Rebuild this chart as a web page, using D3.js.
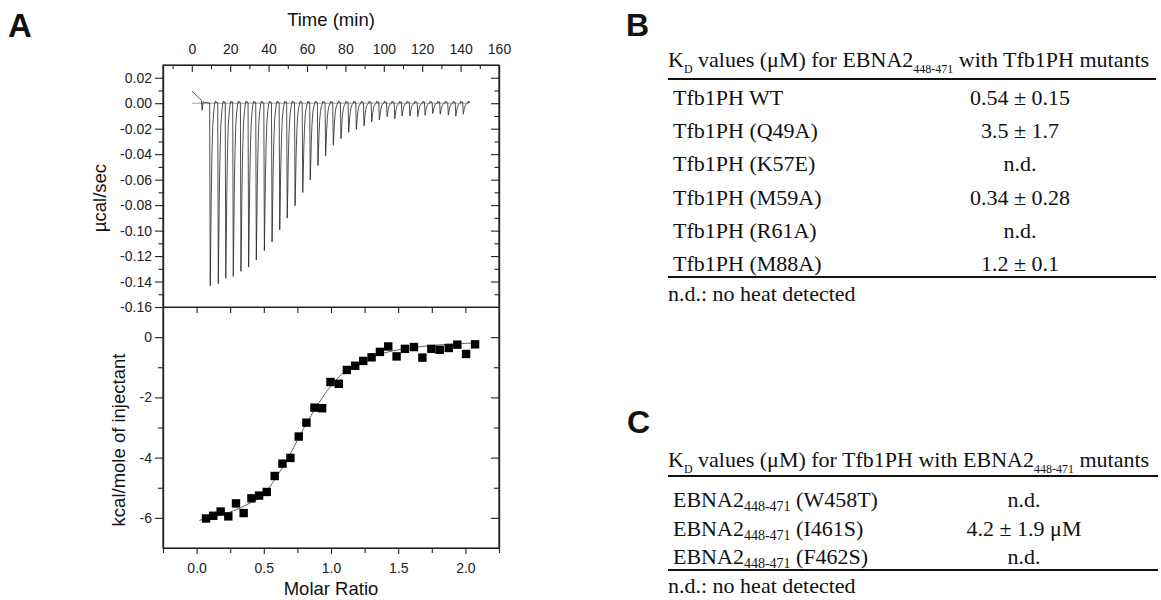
<!DOCTYPE html>
<html>
<head>
<meta charset="utf-8">
<script src="https://cdn.jsdelivr.net/npm/d3@7"></script>
<style>
body { margin: 0; background: #fff; }
svg { display: block; }
</style>
</head>
<body>
<script>
// ---- panel A, top: raw ITC trace ----
var injectionTimes = [9.3, 13.5, 17.4, 21.3, 25.3, 29.3, 33.3, 37.5, 41.5, 45.5, 49.4, 53.5,
	57.5, 61.4, 65.4, 69.4, 73.4, 77.4, 81.4, 85.4, 89.4, 93.4, 97.4, 101.4, 105.4, 109.2,
	113.3, 117.4, 121.2, 125.2, 129.1, 133.3, 137.2, 141.1];
var injectionPeaks = [-0.1433, -0.1417, -0.1375, -0.136, -0.132, -0.1286, -0.123, -0.1158,
	-0.109, -0.0994, -0.0902, -0.0805, -0.0701, -0.0602, -0.0489, -0.0413, -0.0330, -0.0278,
	-0.0228, -0.0205, -0.0178, -0.0146, -0.0130, -0.0105, -0.0122, -0.0100, -0.0100, -0.0105,
	-0.0094, -0.0081, -0.0086, -0.0094, -0.0102, -0.0086];
var startTrace = [[0, 0.0095], [1, 0.0082], [2, 0.0066], [3, 0.0050], [4, 0.0036], [5, 0.0022],
	[5.4, -0.0055], [5.9, 0.0012], [6.6, 0.0004], [7.5, 0.0006], [8.5, 0.0002]];
var traceEnd = [[144, 0.0002]];
// shape of one injection peak: [minutes after injection, fraction of peak depth]
var spikeShape = [[0, 0], [0.3, 1], [0.55, 0.78], [0.85, 0.5], [1.2, 0.28], [1.6, 0.13],
	[2.1, 0.05], [2.6, 0.005]];
// small baseline bump between injections: [minutes after injection, µcal/sec]
var bumpShape = [[2.95, 0.0016], [3.3, 0.0006], [3.7, 0.0011]];

var timeTicks = [0, 20, 40, 60, 80, 100, 120, 140, 160];
var timeMinor = [-10, 10, 30, 50, 70, 90, 110, 130, 150];
var powerTicks = [0.02, 0.00, -0.02, -0.04, -0.06, -0.08, -0.10, -0.12, -0.14, -0.16];
var powerMinor = [0.01, -0.01, -0.03, -0.05, -0.07, -0.09, -0.11, -0.13, -0.15];

// ---- panel A, bottom: integrated heats ----
var molarRatio = [0.070, 0.124, 0.179, 0.236, 0.293, 0.350, 0.408, 0.465, 0.522, 0.581,
	0.639, 0.698, 0.760, 0.817, 0.877, 0.934, 0.996, 1.058, 1.118, 1.180, 1.240, 1.302,
	1.364, 1.426, 1.488, 1.550, 1.617, 1.680, 1.747, 1.809, 1.876, 1.940, 2.005, 2.072];
var heats = [-6.02, -5.93, -5.79, -5.95, -5.52, -5.84, -5.35, -5.26, -5.14, -4.61,
	-4.20, -4.01, -3.30, -2.84, -2.34, -2.36, -1.49, -1.55, -1.09, -0.95, -0.79, -0.67,
	-0.49, -0.31, -0.64, -0.39, -0.33, -0.68, -0.39, -0.42, -0.36, -0.25, -0.56, -0.24];
var fitRatio = [0.02, 0.1, 0.2, 0.3, 0.4, 0.5, 0.6, 0.7, 0.8, 0.9, 1.0, 1.1, 1.2, 1.3,
	1.4, 1.5, 1.6, 1.7, 1.8, 1.9, 2.0, 2.07];
var fitHeat = [-6.08, -6.0, -5.88, -5.72, -5.5, -5.22, -4.6, -3.85, -3.0, -2.25, -1.62,
	-1.15, -0.87, -0.67, -0.52, -0.42, -0.35, -0.3, -0.26, -0.23, -0.21, -0.19];

var ratioTicks = [0.0, 0.5, 1.0, 1.5, 2.0];
var ratioMinor = [-0.25, 0.25, 0.75, 1.25, 1.75, 2.25];
var heatTicks = [0, -2, -4, -6];
var heatMinor = [-1, -3, -5];

// ---- panels B and C: tables ----
var tableBRows = ['Tfb1PH WT', 'Tfb1PH (Q49A)', 'Tfb1PH (K57E)', 'Tfb1PH (M59A)', 'Tfb1PH (R61A)', 'Tfb1PH (M88A)'];
var tableBValues = ['0.54 \u00b1 0.15', '3.5 \u00b1 1.7', 'n.d.', '0.34 \u00b1 0.28', 'n.d.', '1.2 \u00b1 0.1'];
var tableCMutants = ['(W458T)', '(I461S)', '(F462S)'];
var tableCValues = ['n.d.', '4.2 \u00b1 1.9 \u03bcM', 'n.d.'];
var footnote = 'n.d.: no heat detected';

var sans = 'Liberation Sans, Arial, sans-serif';
var serif = 'Liberation Serif, Times New Roman, serif';

var svg = d3.select('body').append('svg')
	.attr('width', 1161)
	.attr('height', 600);

var left = 163, right = 499, topY = 65, midY = 307, botY = 548;

var xTime = d3.scaleLinear().domain([-15, 160]).range([left, right]);
var yPower = d3.scaleLinear().domain([-0.16, 0.03]).range([midY, topY]);
var xRatio = d3.scaleLinear().domain([-0.25, 2.25]).range([left, right]);
var yHeat = d3.scaleLinear().domain([-7, 1]).range([botY, midY]);

function styleAxis(g) {
	g.attr('font-family', sans).attr('font-size', 14);
	g.selectAll('path.domain').attr('stroke', '#222').attr('stroke-width', 1.2);
	g.selectAll('.tick line').attr('stroke', '#222').attr('stroke-width', 1.1);
	g.selectAll('.tick text').attr('fill', '#222');
}

function addAxis(axis, tx, ty) {
	var g = svg.append('g')
		.attr('transform', 'translate(' + tx + ',' + ty + ')')
		.call(axis);
	styleAxis(g);
	return g;
}

// frames
svg.append('rect')
	.attr('x', left).attr('y', topY)
	.attr('width', right - left).attr('height', botY - topY)
	.attr('fill', 'none').attr('stroke', '#222').attr('stroke-width', 1.2);
svg.append('line')
	.attr('x1', left).attr('x2', right)
	.attr('y1', midY).attr('y2', midY)
	.attr('stroke', '#222').attr('stroke-width', 1.2);

// top panel axes
addAxis(d3.axisTop(xTime).tickValues(timeTicks).tickSizeInner(-7).tickSizeOuter(0)
	.tickPadding(11).tickFormat(function(d) { return d; }), 0, topY);
addAxis(d3.axisTop(xTime).tickValues(timeMinor).tickSizeInner(-4).tickSizeOuter(0)
	.tickFormat(''), 0, topY);
addAxis(d3.axisLeft(yPower).tickValues(powerTicks).tickSizeInner(8).tickSizeOuter(0)
	.tickPadding(3).tickFormat(function(d) { return d.toFixed(2); }), left, 0);
addAxis(d3.axisLeft(yPower).tickValues(powerMinor).tickSizeInner(4.5).tickSizeOuter(0)
	.tickFormat(''), left, 0);
addAxis(d3.axisRight(yPower).tickValues(powerTicks.slice(0, -1)).tickSizeInner(-8).tickSizeOuter(0)
	.tickFormat(''), right, 0);
addAxis(d3.axisRight(yPower).tickValues(powerMinor).tickSizeInner(-4.5).tickSizeOuter(0)
	.tickFormat(''), right, 0);

// bottom panel axes
addAxis(d3.axisBottom(xRatio).tickValues(ratioTicks.concat(ratioMinor.slice(1, -1))).tickSizeInner(6)
	.tickSizeOuter(0).tickFormat(''), 0, midY);
addAxis(d3.axisBottom(xRatio).tickValues(ratioTicks).tickSizeInner(6).tickSizeOuter(0)
	.tickPadding(9).tickFormat(function(d) { return d.toFixed(1); }), 0, botY);
addAxis(d3.axisBottom(xRatio).tickValues(ratioMinor).tickSizeInner(5).tickSizeOuter(0)
	.tickFormat(''), 0, botY);
addAxis(d3.axisLeft(yHeat).tickValues(heatTicks).tickSizeInner(8).tickSizeOuter(0)
	.tickPadding(3).tickFormat(function(d) { return String(d); }), left, 0);
addAxis(d3.axisLeft(yHeat).tickValues(heatMinor).tickSizeInner(5).tickSizeOuter(0)
	.tickFormat(''), left, 0);
addAxis(d3.axisRight(yHeat).tickValues(heatTicks).tickSizeInner(-8).tickSizeOuter(0)
	.tickFormat(''), right, 0);
addAxis(d3.axisRight(yHeat).tickValues(heatMinor).tickSizeInner(-5).tickSizeOuter(0)
	.tickFormat(''), right, 0);

// raw trace
var trace = startTrace.slice();
injectionTimes.forEach(function(t0, i) {
	spikeShape.forEach(function(p) {
		trace.push([t0 + p[0], injectionPeaks[i] * p[1]]);
	});
	bumpShape.forEach(function(p) {
		trace.push([t0 + p[0], p[1]]);
	});
});
trace = trace.concat(traceEnd);

svg.append('line')
	.attr('x1', xTime(0)).attr('x2', xTime(traceEnd[0][0]))
	.attr('y1', yPower(0)).attr('y2', yPower(0))
	.attr('stroke', '#777').attr('stroke-width', 0.7);

svg.append('path')
	.datum(trace)
	.attr('d', d3.line()
		.x(function(d) { return xTime(d[0]); })
		.y(function(d) { return yPower(d[1]); }))
	.attr('fill', 'none')
	.attr('stroke', '#222')
	.attr('stroke-width', 0.8);

// fit curve and points
svg.append('path')
	.datum(fitRatio.map(function(r, i) { return [r, fitHeat[i]]; }))
	.attr('d', d3.line()
		.curve(d3.curveMonotoneX)
		.x(function(d) { return xRatio(d[0]); })
		.y(function(d) { return yHeat(d[1]); }))
	.attr('fill', 'none')
	.attr('stroke', '#666')
	.attr('stroke-width', 1);

svg.selectAll('rect.pt')
	.data(molarRatio)
	.enter()
	.append('rect')
	.attr('class', 'pt')
	.attr('x', function(d) { return xRatio(d) - 4.2; })
	.attr('y', function(d, i) { return yHeat(heats[i]) - 4.2; })
	.attr('width', 8.4)
	.attr('height', 8.4)
	.attr('fill', '#000');

// axis titles
svg.append('text')
	.attr('x', 331).attr('y', 26)
	.attr('text-anchor', 'middle')
	.attr('font-family', sans).attr('font-size', 18.5).attr('fill', '#111')
	.text('Time (min)');
svg.append('text')
	.attr('transform', 'translate(106,198) rotate(-90)')
	.attr('text-anchor', 'middle')
	.attr('font-family', sans).attr('font-size', 18.5).attr('fill', '#111')
	.text('\u00b5cal/sec');
svg.append('text')
	.attr('transform', 'translate(124.5,440) rotate(-90)')
	.attr('text-anchor', 'middle')
	.attr('font-family', sans).attr('font-size', 18.5).attr('fill', '#111')
	.text('kcal/mole of injectant');
svg.append('text')
	.attr('x', 331).attr('y', 595)
	.attr('text-anchor', 'middle')
	.attr('font-family', sans).attr('font-size', 18.5).attr('fill', '#111')
	.text('Molar Ratio');

// panel letters
[['A', 8, 37, 33], ['B', 626, 36, 32], ['C', 627, 433, 32]].forEach(function(l) {
	svg.append('text')
		.attr('x', l[1]).attr('y', l[2])
		.attr('font-family', sans).attr('font-weight', 'bold')
		.attr('font-size', l[3]).attr('fill', '#111')
		.text(l[0]);
});

// tables
function richText(x, y, parts, size, subSize, subShift) {
	var t = svg.append('text')
		.attr('x', x).attr('y', y)
		.attr('font-family', serif).attr('font-size', size).attr('fill', '#111');
	parts.forEach(function(p) {
		if (p.sub) {
			t.append('tspan').attr('dy', subShift).attr('font-size', subSize).text(p.t);
		} else {
			t.append('tspan').attr('dy', p.back ? -subShift : 0).text(p.t);
		}
	});
	return t;
}

function hline(x1, x2, y) {
	svg.append('line')
		.attr('x1', x1).attr('x2', x2)
		.attr('y1', y).attr('y2', y)
		.attr('stroke', '#111').attr('stroke-width', 1.8);
}

var fontSize = 22;

// table B
richText(668, 67, [
	{t: 'K'}, {t: 'D', sub: true}, {t: ' values (\u03bcM) for EBNA2', back: true},
	{t: '448-471', sub: true}, {t: ' with Tfb1PH mutants', back: true}
], fontSize, 12, 6);
hline(668, 1156, 79);
hline(668, 1156, 277);

var rowB = d3.scaleLinear().domain([0, tableBRows.length - 1]).range([105, 271]);
tableBRows.forEach(function(r, i) {
	svg.append('text')
		.attr('x', 673).attr('y', rowB(i))
		.attr('font-family', serif).attr('font-size', fontSize).attr('fill', '#111')
		.text(r);
	svg.append('text')
		.attr('x', 1020).attr('y', rowB(i))
		.attr('text-anchor', 'middle')
		.attr('font-family', serif).attr('font-size', fontSize).attr('fill', '#111')
		.text(tableBValues[i]);
});
svg.append('text')
	.attr('x', 668).attr('y', 301)
	.attr('font-family', serif).attr('font-size', fontSize).attr('fill', '#111')
	.text(footnote);

// table C
richText(668, 467, [
	{t: 'K'}, {t: 'D', sub: true}, {t: ' values (\u03bcM) for Tfb1PH with EBNA2', back: true},
	{t: '448-471', sub: true}, {t: ' mutants', back: true}
], fontSize, 12, 6);
hline(668, 1158, 476);
hline(668, 1158, 570);

var rowC = d3.scaleLinear().domain([0, tableCMutants.length - 1]).range([507, 564]);
tableCMutants.forEach(function(m, i) {
	richText(673, rowC(i), [
		{t: 'EBNA2'}, {t: '448-471', sub: true}, {t: ' ' + m, back: true}
	], fontSize, 14, 4);
	svg.append('text')
		.attr('x', 1024).attr('y', rowC(i))
		.attr('text-anchor', 'middle')
		.attr('font-family', serif).attr('font-size', fontSize).attr('fill', '#111')
		.text(tableCValues[i]);
});
svg.append('text')
	.attr('x', 668).attr('y', 593)
	.attr('font-family', serif).attr('font-size', fontSize).attr('fill', '#111')
	.text(footnote);
</script>
</body>
</html>
